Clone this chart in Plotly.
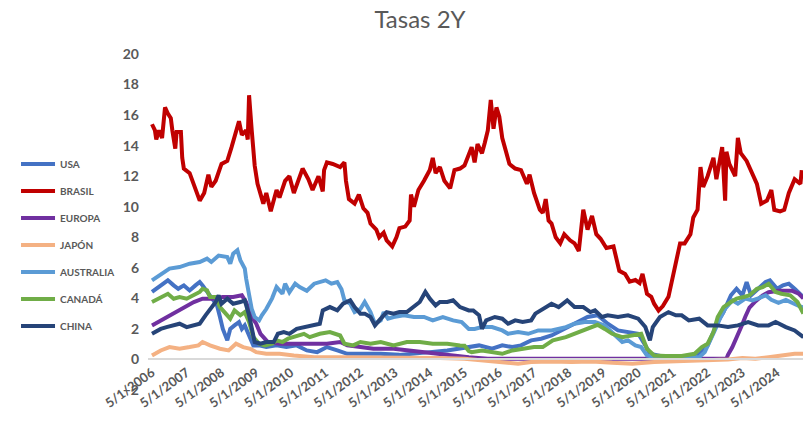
import plotly.graph_objects as go

series_names = ["USA", "BRASIL", "EUROPA", "JAPÓN", "AUSTRALIA", "CANADÁ", "CHINA"]
series_colors = ["#4472C4", "#C00000", "#7030A0", "#F4B183", "#5B9BD5", "#70AD47", "#264478"]

tick_dates = ["2006-05-01", "2007-05-01", "2008-05-01", "2009-05-01", "2010-05-01",
              "2011-05-01", "2012-05-01", "2013-05-01", "2014-05-01", "2015-05-01",
              "2016-05-01", "2017-05-01", "2018-05-01", "2019-05-01", "2020-05-01",
              "2021-05-01", "2022-05-01", "2023-05-01", "2024-05-01"]
tick_labels = ["5/1/2006", "5/1/2007", "5/1/2008", "5/1/2009", "5/1/2010",
               "5/1/2011", "5/1/2012", "5/1/2013", "5/1/2014", "5/1/2015",
               "5/1/2016", "5/1/2017", "5/1/2018", "5/1/2019", "5/1/2020",
               "5/1/2021", "5/1/2022", "5/1/2023", "5/1/2024"]

usa_dates = ["2006-05-01", "2006-08-01", "2006-10-15", "2006-12-15", "2007-02-01", "2007-04-01",
             "2007-06-01", "2007-08-01", "2007-09-15", "2007-10-15", "2007-12-01", "2008-01-15",
             "2008-03-15", "2008-04-15", "2008-05-15", "2008-07-01", "2008-08-01", "2008-09-15",
             "2008-11-01", "2008-12-01", "2009-01-01", "2009-02-15", "2009-04-01", "2009-06-01",
             "2009-08-15", "2009-12-01", "2010-03-15", "2010-07-01", "2010-10-15", "2011-02-01",
             "2011-05-15", "2011-09-01", "2011-12-15", "2012-05-01", "2012-12-01", "2013-06-15",
             "2013-12-15", "2014-05-01", "2014-11-01", "2015-03-15", "2015-06-15", "2015-10-01",
             "2016-02-15", "2016-06-01", "2016-09-15", "2016-12-15", "2017-04-01", "2017-07-15",
             "2017-11-01", "2018-02-15", "2018-06-01", "2018-09-15", "2018-11-15", "2019-03-01",
             "2019-06-15", "2019-10-01", "2020-01-15", "2020-05-01", "2020-07-15", "2020-09-01",
             "2021-01-01", "2021-07-01", "2021-12-15", "2022-03-01", "2022-05-01", "2022-07-01",
             "2022-08-15", "2022-10-15", "2023-01-01", "2023-03-01", "2023-05-01", "2023-06-15",
             "2023-08-01", "2023-10-15", "2024-01-01", "2024-02-15", "2024-05-01", "2024-07-01",
             "2024-09-01", "2024-11-01", "2025-02-01"]
usa_vals = [4.42, 4.85, 5.18, 4.85, 4.63, 4.85,
            4.52, 4.85, 5.07, 4.85, 4.42, 3.98,
            3.54, 2.78, 2.0, 1.25, 2.0, 2.23,
            2.45, 2.0, 2.23, 1.57, 0.92, 0.92,
            0.81, 0.92, 0.81, 0.92, 0.59, 0.48,
            0.81, 0.59, 0.37, 0.37, 0.37, 0.3,
            0.37, 0.48, 0.59, 0.7, 0.81, 0.92,
            0.7, 0.92, 0.81, 0.92, 1.25, 1.36,
            1.57, 1.9, 2.23, 2.56, 2.78, 2.9,
            2.34, 1.9, 1.79, 1.68, 0.92, 0.37,
            0.22, 0.15, 0.22, 0.48, 0.92, 1.79,
            2.45, 3.1, 4.2, 4.63, 4.2, 5.07,
            4.2, 4.63, 5.07, 5.18, 4.63, 4.85,
            4.96, 4.63, 4.09]

brasil_dates = ["2006-05-01", "2006-06-01", "2006-06-15", "2006-07-15", "2006-08-15", "2006-09-15",
                "2006-10-15", "2006-11-15", "2006-12-01", "2007-01-01", "2007-01-15", "2007-03-01",
                "2007-03-15", "2007-04-01", "2007-06-01", "2007-07-15", "2007-09-15", "2007-11-01",
                "2007-12-15", "2008-01-15", "2008-03-01", "2008-05-01", "2008-07-01", "2008-08-15",
                "2008-09-15", "2008-11-01", "2008-12-01", "2009-01-15", "2009-02-01", "2009-02-15",
                "2009-03-15", "2009-04-15", "2009-05-15", "2009-07-15", "2009-08-15", "2009-10-01",
                "2009-12-01", "2010-01-01", "2010-03-01", "2010-04-15", "2010-06-01", "2010-07-15",
                "2010-09-01", "2010-11-01", "2010-12-15", "2011-02-15", "2011-04-01", "2011-04-15",
                "2011-05-15", "2011-07-15", "2011-10-01", "2011-11-15", "2011-12-01", "2012-01-01",
                "2012-03-01", "2012-04-15", "2012-06-01", "2012-07-15", "2012-08-15", "2012-10-15",
                "2012-11-15", "2013-01-01", "2013-02-01", "2013-04-01", "2013-05-15", "2013-06-15",
                "2013-08-15", "2013-10-01", "2013-10-15", "2013-11-15", "2014-01-01", "2014-03-01",
                "2014-05-01", "2014-06-01", "2014-07-01", "2014-08-15", "2014-10-01", "2014-12-01",
                "2015-01-15", "2015-03-15", "2015-05-01", "2015-07-15", "2015-08-15", "2015-09-15",
                "2015-11-01", "2015-12-01", "2016-01-01", "2016-02-01", "2016-03-01", "2016-04-01",
                "2016-05-01", "2016-06-01", "2016-07-15", "2016-08-15", "2016-10-15", "2016-12-15",
                "2017-02-15", "2017-03-15", "2017-05-01", "2017-07-01", "2017-08-01", "2017-09-01",
                "2017-10-01", "2017-11-01", "2017-12-15", "2018-02-01", "2018-03-15", "2018-05-15",
                "2018-07-01", "2018-08-15", "2018-10-01", "2018-11-15", "2019-01-01", "2019-02-15",
                "2019-04-01", "2019-06-01", "2019-08-15", "2019-09-15", "2019-10-15", "2019-12-15",
                "2020-02-01", "2020-04-01", "2020-05-15", "2020-06-15", "2020-08-01", "2020-09-15",
                "2020-10-15", "2020-12-01", "2021-01-15", "2021-03-15", "2021-04-15", "2021-06-01",
                "2021-07-15", "2021-09-01", "2021-11-01", "2021-12-01", "2022-01-15", "2022-02-15",
                "2022-03-15", "2022-05-01", "2022-07-01", "2022-08-01", "2022-10-01", "2022-11-01",
                "2022-11-15", "2022-12-15", "2023-02-15", "2023-03-15", "2023-04-15", "2023-06-15",
                "2023-08-01", "2023-10-01", "2023-11-15", "2024-01-15", "2024-03-01", "2024-04-01",
                "2024-06-01", "2024-07-15", "2024-09-01", "2024-11-01", "2025-01-01", "2025-01-15"]
brasil_vals = [15.4, 15.0, 14.4, 15.0, 14.5, 16.5,
               16.1, 15.8, 15.0, 13.8, 14.9, 14.9,
               13.2, 12.5, 12.2, 11.5, 10.4, 10.9,
               12.1, 11.3, 11.7, 12.8, 13.0, 13.9,
               14.6, 15.6, 14.7, 15.0, 14.4, 17.3,
               15.0, 12.7, 11.5, 10.2, 10.9, 9.7,
               11.1, 10.6, 11.7, 12.0, 10.9, 11.7,
               12.5, 11.8, 11.1, 12.0, 11.0, 12.4,
               12.9, 12.8, 12.6, 12.9, 11.7, 10.5,
               10.2, 10.8, 9.9, 9.6, 8.9, 8.5,
               8.0, 8.3, 7.8, 7.4, 8.0, 8.6,
               8.7, 9.1, 10.8, 10.0, 11.1, 11.7,
               12.4, 13.2, 12.2, 12.6, 11.7, 11.2,
               12.4, 12.5, 12.7, 13.9, 12.9, 14.1,
               13.5, 14.2, 15.0, 17.0, 15.1, 16.5,
               15.9, 14.5, 13.6, 12.8, 12.5, 12.4,
               11.5, 12.1, 10.9, 9.8, 9.6, 10.5,
               9.1, 8.9, 8.0, 7.6, 8.2, 7.8,
               7.6, 7.1, 9.8, 8.5, 9.4, 8.2,
               7.9, 7.3, 7.4, 6.7, 5.8, 5.6,
               5.1, 5.2, 5.0, 5.6, 4.3, 4.1,
               3.65, 3.2, 3.5, 4.1, 5.0, 6.5,
               7.6, 7.6, 8.2, 9.3, 9.8, 12.6,
               11.3, 12.0, 13.2, 11.8, 13.9, 10.4,
               13.6, 12.8, 12.0, 14.5, 13.5, 13.0,
               12.3, 11.5, 10.2, 10.4, 11.1, 9.8,
               9.7, 9.8, 10.9, 11.8, 11.5, 12.4]

europa_dates = ["2006-05-01", "2006-09-01", "2006-12-15", "2007-04-01", "2007-07-15", "2007-10-15",
                "2008-02-01", "2008-05-15", "2008-09-01", "2008-12-01", "2009-01-15", "2009-03-15",
                "2009-05-01", "2009-06-15", "2009-07-15", "2009-09-01", "2010-01-01", "2010-08-01",
                "2011-05-15", "2011-10-01", "2011-12-15", "2012-05-01", "2012-09-15", "2013-04-15",
                "2013-09-01", "2014-04-01", "2014-08-15", "2015-01-01", "2015-06-15", "2016-01-01",
                "2022-11-15", "2022-12-01", "2023-01-15", "2023-02-15", "2023-03-15", "2023-05-01",
                "2023-06-01", "2023-07-15", "2023-09-15", "2023-12-01", "2024-02-01", "2024-05-15",
                "2024-10-01", "2024-12-15", "2025-02-01"]
europa_vals = [2.23, 2.67, 3.0, 3.43, 3.76, 3.98,
               3.98, 4.09, 4.09, 4.2, 3.76, 2.78,
               2.34, 1.68, 1.46, 1.14, 1.03, 1.03,
               1.03, 1.14, 0.92, 0.81, 0.7, 0.7,
               0.59, 0.48, 0.37, 0.26, 0.15, 0.05,
               0.05, 0.3, 0.8, 1.2, 1.6, 2.3,
               2.8, 3.4, 3.8, 4.2, 4.4, 4.5,
               4.5, 4.3, 4.0]

japon_dates = ["2006-05-01", "2006-08-01", "2006-11-01", "2007-02-15", "2007-06-01", "2007-09-01",
               "2007-10-15", "2008-01-01", "2008-04-15", "2008-07-15", "2008-10-01", "2008-12-15",
               "2009-03-01", "2009-05-01", "2009-08-15", "2010-01-01", "2010-06-01", "2011-01-01",
               "2011-10-01", "2012-09-15", "2013-09-01", "2014-08-15", "2015-05-01", "2015-12-01",
               "2016-06-01", "2016-11-15", "2017-04-01", "2017-11-01", "2018-06-01", "2019-01-01",
               "2019-08-01", "2020-03-01", "2020-10-15", "2021-04-15", "2021-11-15", "2022-06-15",
               "2022-12-01", "2023-05-01", "2023-09-15", "2024-02-01", "2024-06-15", "2024-11-01",
               "2025-02-01"]
japon_vals = [0.26, 0.59, 0.81, 0.7, 0.81, 0.92,
              1.14, 0.92, 0.7, 0.59, 1.03, 0.81,
              0.7, 0.48, 0.37, 0.37, 0.26, 0.15,
              0.15, 0.15, 0.11, 0.09, 0.04, -0.07,
              -0.17, -0.28, -0.17, -0.13, -0.17, -0.13,
              -0.22, -0.28, -0.17, -0.13, -0.13, -0.07,
              0.0, 0.09, 0.04, 0.15, 0.26, 0.37,
              0.37]

australia_dates = ["2006-05-01", "2006-08-01", "2006-11-01", "2007-02-15", "2007-06-01", "2007-09-15",
                   "2007-12-01", "2008-01-15", "2008-04-01", "2008-07-01", "2008-08-01", "2008-09-01",
                   "2008-10-15", "2008-11-15", "2009-01-01", "2009-01-15", "2009-02-15", "2009-03-15",
                   "2009-04-15", "2009-06-01", "2009-07-01", "2009-08-15", "2009-10-15", "2009-12-01",
                   "2010-02-01", "2010-03-01", "2010-04-15", "2010-06-15", "2010-08-01", "2010-10-15",
                   "2011-01-01", "2011-03-01", "2011-05-01", "2011-07-01", "2011-09-01", "2011-10-15",
                   "2011-11-15", "2012-01-15", "2012-03-01", "2012-05-01", "2012-06-15", "2012-08-15",
                   "2012-10-01", "2012-12-01", "2013-01-01", "2013-02-15", "2013-04-15", "2013-08-01",
                   "2013-11-15", "2014-03-01", "2014-06-01", "2014-09-15", "2015-01-01", "2015-04-01",
                   "2015-06-15", "2015-08-15", "2015-11-01", "2016-02-15", "2016-06-01", "2016-08-01",
                   "2016-11-15", "2017-03-01", "2017-06-15", "2017-11-01", "2018-04-01", "2018-07-01",
                   "2018-10-15", "2019-02-01", "2019-05-15", "2019-08-15", "2019-11-15", "2020-01-15",
                   "2020-04-01", "2020-06-01", "2020-08-01", "2020-11-01", "2021-02-15", "2021-07-01",
                   "2021-11-15", "2022-02-01", "2022-04-01", "2022-06-01", "2022-07-15", "2022-09-15",
                   "2022-11-01", "2023-01-15", "2023-03-15", "2023-06-01", "2023-08-15", "2023-10-15",
                   "2024-01-01", "2024-03-01", "2024-05-15", "2024-08-01", "2024-10-01", "2024-12-15",
                   "2025-02-01"]
australia_vals = [5.18, 5.6, 5.95, 6.05, 6.27, 6.38,
                  6.6, 6.38, 6.8, 6.7, 6.27, 6.93,
                  7.15, 6.5, 5.95, 5.3, 4.2, 3.3,
                  2.78, 2.56, 2.9, 3.3, 4.0, 4.74,
                  4.3, 4.96, 4.4, 4.96, 4.74, 4.5,
                  4.96, 5.07, 5.18, 4.96, 5.07, 4.6,
                  3.87, 3.65, 3.1, 3.3, 3.76, 3.1,
                  2.34, 2.56, 3.1, 2.67, 2.78, 2.89,
                  2.78, 2.78, 2.56, 2.78, 2.56, 2.45,
                  2.0, 2.0, 2.12, 2.12, 1.9, 1.68,
                  1.79, 1.68, 1.9, 1.9, 2.12, 2.34,
                  2.45, 2.45, 2.23, 1.68, 1.14, 1.25,
                  0.92, 0.81, 0.26, 0.15, 0.15, 0.09,
                  0.09, 0.15, 0.48, 1.25, 1.9, 2.78,
                  3.32, 3.87, 3.65, 3.98, 3.87, 4.0,
                  4.2, 3.9, 3.7, 3.9, 3.7, 3.5,
                  3.4]

canada_dates = ["2006-05-01", "2006-08-01", "2006-10-15", "2006-12-15", "2007-02-15", "2007-05-01",
                "2007-07-15", "2007-09-15", "2007-10-15", "2007-12-01", "2008-01-01", "2008-03-01",
                "2008-04-15", "2008-06-01", "2008-08-01", "2008-09-15", "2008-11-15", "2009-01-01",
                "2009-02-15", "2009-04-01", "2009-06-01", "2009-08-01", "2009-10-15", "2009-12-01",
                "2010-02-01", "2010-04-01", "2010-07-01", "2010-09-15", "2010-11-15", "2011-03-01",
                "2011-06-15", "2011-10-01", "2011-11-15", "2012-02-15", "2012-05-01", "2012-08-15",
                "2012-12-01", "2013-04-15", "2013-09-01", "2014-01-15", "2014-06-01", "2014-11-01",
                "2015-03-15", "2015-05-01", "2015-06-15", "2015-07-15", "2015-11-01", "2016-02-15",
                "2016-06-01", "2016-09-15", "2016-12-15", "2017-05-01", "2017-08-01", "2017-11-15",
                "2018-04-01", "2018-07-01", "2018-10-15", "2019-03-01", "2019-05-15", "2019-08-01",
                "2019-11-15", "2020-03-01", "2020-06-01", "2020-08-01", "2020-10-15", "2021-02-15",
                "2021-08-01", "2021-12-15", "2022-03-01", "2022-05-01", "2022-07-01", "2022-08-15",
                "2022-10-15", "2023-01-01", "2023-03-01", "2023-05-15", "2023-07-15", "2023-10-01",
                "2023-12-01", "2024-02-01", "2024-04-15", "2024-06-15", "2024-09-15", "2024-12-01",
                "2025-02-01"]
canada_vals = [3.76, 4.09, 4.3, 3.98, 4.09, 3.98,
               4.2, 4.42, 4.63, 4.52, 4.09, 4.09,
               3.43, 3.1, 2.67, 3.21, 2.89, 3.1,
               2.45, 1.46, 1.03, 0.92, 1.03, 1.25,
               1.14, 1.36, 1.57, 1.68, 1.46, 1.68,
               1.79, 1.57, 1.03, 0.92, 1.14, 1.03,
               1.14, 0.92, 1.14, 1.14, 1.03, 1.03,
               0.92, 0.9, 0.55, 0.48, 0.59, 0.48,
               0.37, 0.59, 0.7, 0.81, 0.81, 1.25,
               1.46, 1.68, 2.0, 2.27, 2.0, 1.68,
               1.46, 1.57, 1.68, 0.7, 0.26, 0.22,
               0.22, 0.37, 0.81, 1.03, 1.79, 2.78,
               3.43, 3.76, 3.98, 4.09, 4.2, 4.63,
               4.74, 4.96, 4.42, 4.3, 4.2, 3.76,
               3.0]

china_dates = ["2006-05-01", "2006-08-01", "2006-10-01", "2006-12-15", "2007-02-15", "2007-05-01",
               "2007-08-01", "2007-09-15", "2007-11-15", "2008-01-01", "2008-03-01", "2008-04-01",
               "2008-05-01", "2008-07-01", "2008-09-01", "2008-11-15", "2009-01-01", "2009-02-15",
               "2009-03-15", "2009-04-15", "2009-06-15", "2009-08-15", "2009-11-01", "2009-12-15",
               "2010-02-15", "2010-04-15", "2010-07-01", "2010-09-15", "2011-01-01", "2011-03-01",
               "2011-04-01", "2011-06-15", "2011-09-01", "2011-11-01", "2012-01-15", "2012-03-01",
               "2012-05-01", "2012-06-15", "2012-08-15", "2012-10-01", "2012-12-01", "2013-02-01",
               "2013-04-15", "2013-06-15", "2013-09-01", "2013-11-15", "2014-01-15", "2014-03-15",
               "2014-05-01", "2014-07-01", "2014-08-15", "2014-11-01", "2015-01-01", "2015-03-15",
               "2015-06-15", "2015-08-01", "2015-10-01", "2015-11-01", "2015-12-15", "2016-03-15",
               "2016-06-01", "2016-08-01", "2016-10-15", "2017-01-01", "2017-04-01", "2017-05-15",
               "2017-09-01", "2017-11-01", "2018-01-15", "2018-04-15", "2018-07-01", "2018-10-01",
               "2018-12-15", "2019-02-01", "2019-04-15", "2019-06-15", "2019-10-01", "2020-01-15",
               "2020-05-01", "2020-07-15", "2020-09-01", "2020-10-01", "2020-12-15", "2021-03-15",
               "2021-06-01", "2021-08-01", "2021-10-15", "2022-02-01", "2022-05-01", "2022-08-15",
               "2022-12-01", "2023-03-15", "2023-07-01", "2023-10-15", "2024-02-01", "2024-04-15",
               "2024-08-01", "2024-11-01", "2025-02-01"]
china_vals = [1.68, 2.0, 2.12, 2.23, 2.34, 2.12,
              2.23, 2.34, 2.89, 3.32, 3.76, 4.2,
              3.65, 3.98, 3.65, 3.76, 3.87, 2.89,
              2.0, 1.14, 1.03, 1.14, 1.14, 1.68,
              1.79, 1.68, 2.0, 2.12, 2.23, 2.34,
              3.21, 3.43, 3.21, 3.65, 3.87, 3.43,
              3.0, 3.0, 2.78, 2.23, 2.67, 3.1,
              3.0, 3.1, 3.1, 3.43, 3.76, 4.42,
              3.98, 3.54, 3.76, 3.76, 3.87, 3.43,
              3.21, 3.21, 2.89, 2.0, 2.56, 2.78,
              2.67, 2.34, 2.56, 2.45, 2.56, 3.0,
              3.43, 3.65, 3.43, 3.87, 3.43, 3.43,
              3.1, 3.21, 2.78, 2.89, 2.78, 2.89,
              2.67, 2.12, 1.25, 2.12, 2.78, 3.1,
              2.89, 2.89, 2.56, 2.67, 2.23, 2.23,
              2.12, 2.23, 2.45, 2.23, 2.23, 2.45,
              2.12, 1.9, 1.46]

all_dates = [usa_dates, brasil_dates, europa_dates, japon_dates, australia_dates, canada_dates, china_dates]
all_vals = [usa_vals, brasil_vals, europa_vals, japon_vals, australia_vals, canada_vals, china_vals]

FONT = "Lato"
GREY = "#595959"

fig = go.Figure()
for name, color, d, v in zip(series_names, series_colors, all_dates, all_vals):
    fig.add_trace(go.Scatter(
        x=d, y=v, name=name, mode="lines", legendgroup=name,
        line=dict(color=color, width=4),
    ))

fig.update_layout(
    width=803, height=423,
    margin=dict(l=148, r=0, t=54, b=33, autoexpand=False),
    plot_bgcolor="white", paper_bgcolor="white",
    font=dict(family=FONT, color=GREY),
    title=dict(text="Tasas 2Y", x=0.523, xref="container", xanchor="center",
               y=1 - 20 / 423, yref="container", yanchor="middle",
               font=dict(family=FONT, size=24, color=GREY)),
    xaxis=dict(type="date", range=["2006-03-20", "2025-01-28"],
               tickmode="array", tickvals=tick_dates, ticktext=tick_labels,
               tickangle=-36, anchor="free", position=2 / 22, automargin=False,
               showline=True, linecolor="#D9D9D9", linewidth=1.5,
               showgrid=False, zeroline=False, ticks="",
               tickfont=dict(family=FONT, size=13, color=GREY, weight="bold")),
    yaxis=dict(range=[-2, 20], tick0=0, dtick=2, showgrid=False, zeroline=False,
               showline=False, ticks="", ticklabelstandoff=8, automargin=False,
               tickfont=dict(family=FONT, size=14, color=GREY, weight="bold")),
    legend=dict(x=-0.2015, xanchor="left", y=0.7155, yanchor="top",
                traceorder="grouped", tracegroupgap=8, itemwidth=34,
                bgcolor="rgba(0,0,0,0)",
                font=dict(family=FONT, size=10, color=GREY, weight="bold")),
    showlegend=True,
)

fig.write_html("out.html",
               config={"displayModeBar": False},
               post_script="document.body.style.margin='0px';document.body.style.overflow='hidden';")
